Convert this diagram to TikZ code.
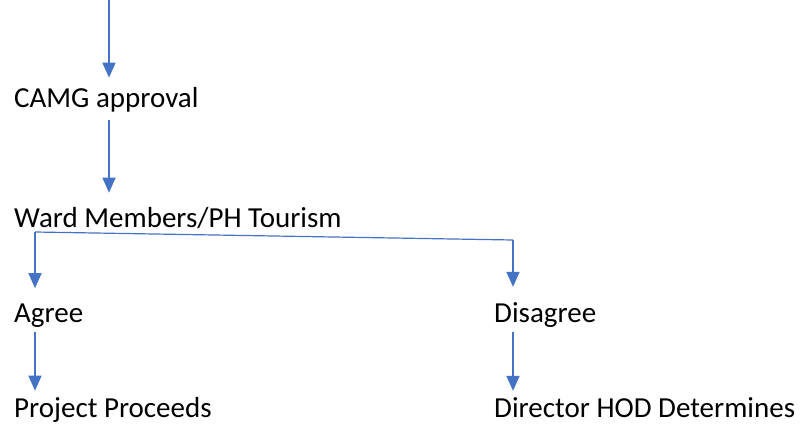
\documentclass[tikz,border=0pt]{standalone}
\usepackage{fontspec}
\setmainfont{Carlito}
\usetikzlibrary{arrows.meta}
\definecolor{linkblue}{HTML}{4472C4}
\begin{document}
\begin{tikzpicture}[x=1pt,y=-1pt,
  lbl/.style={anchor=base west,inner sep=0pt,font=\fontsize{29}{34}\selectfont},
  link/.style={draw=linkblue,line width=1.4pt},
  arr/.style={link,-{Triangle[width=13pt,length=15pt]}}]
\useasboundingbox (0,0) rectangle (805,425);

% labels
\node[lbl] (camg)     at (14,108)  {CAMG approval};
\node[lbl] (ward)     at (14,227)  {Ward Members/PH Tourism};
\node[lbl] (agree)    at (14,322)  {Agree};
\node[lbl] (disagree) at (494,322) {Disagree};
\node[lbl] (proceeds) at (14,417)  {Project Proceeds};
\node[lbl] (hod)      at (494,417) {Director HOD Determines};

% connector points
\coordinate (in) at (109,0);
\coordinate (jl) at (35,232);
\coordinate (jr) at (513,240);

% main chain
\draw[arr] (in) -- ([yshift=10pt]in |- camg.north);
\draw[arr] ([yshift=-7pt]in |- camg.south) -- ([yshift=14pt]in |- ward.north);

% split into the two outcomes
\draw[link,line width=1.2pt] (jl) -- (jr);
\draw[arr] (jl) -- ([yshift=15pt]jl |- agree.north);
\draw[arr] (jr) -- ([yshift=15pt]jr |- disagree.north);

% final steps
\draw[arr] ([yshift=-5pt]jl |- agree.south) -- ([yshift=6pt]jl |- proceeds.north);
\draw[arr] ([yshift=-5pt]jr |- disagree.south) -- ([yshift=6pt]jr |- hod.north);
\end{tikzpicture}
\end{document}
